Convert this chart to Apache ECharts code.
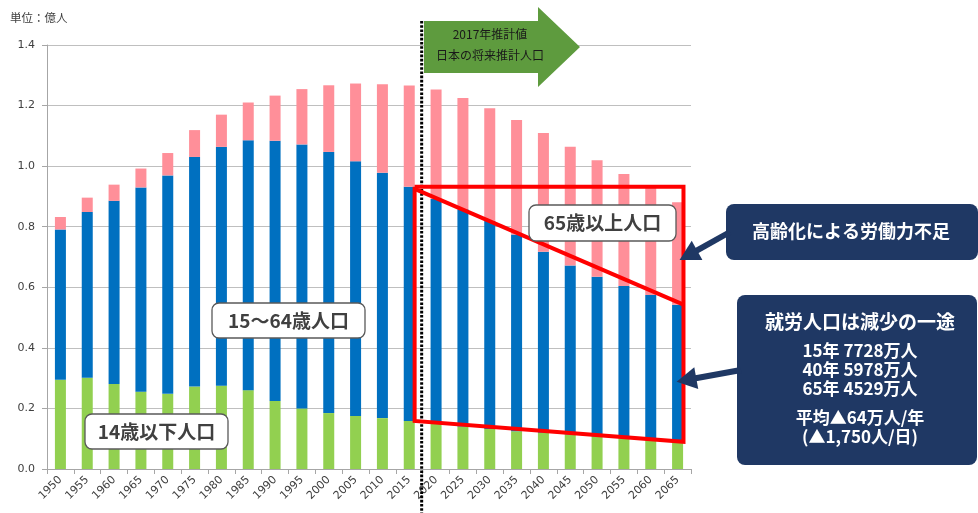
<!DOCTYPE html>
<html>
<head>
<meta charset="utf-8">
<script src="https://cdn.jsdelivr.net/npm/echarts@6/dist/echarts.min.js"></script>
<style>
  html, body { margin: 0; padding: 0; background: #ffffff; }
  #chart { width: 978px; height: 513px; }
</style>
</head>
<body>
<div id="chart"></div>
<script>
// 年次（5年毎）
const years = ['1950','1955','1960','1965','1970','1975','1980','1985','1990','1995',
  '2000','2005','2010','2015','2020','2025','2030','2035','2040','2045',
  '2050','2055','2060','2065'];
// 14歳以下人口（億人）
const young = [0.2943,0.3012,0.2807,0.2553,0.2482,0.2722,0.2751,0.2603,0.2249,0.2001,
  0.1847,0.1752,0.1680,0.1589,0.1507,0.1407,0.1321,0.1246,0.1194,0.1138,
  0.1077,0.1012,0.0951,0.0898];
// 15～64歳人口（億人）
const working = [0.4966,0.5473,0.6047,0.6744,0.7212,0.7581,0.7884,0.8251,0.8590,0.8717,
  0.8622,0.8409,0.8103,0.7728,0.7406,0.7170,0.6875,0.6494,0.5978,0.5584,
  0.5275,0.5028,0.4793,0.4529];
// 65歳以上人口（億人）
const elderly = [0.0411,0.0475,0.0535,0.0624,0.0739,0.0887,0.1065,0.1247,0.1490,0.1826,
  0.2201,0.2567,0.2925,0.3347,0.3619,0.3677,0.3716,0.3782,0.3921,0.3919,
  0.3841,0.3704,0.3540,0.3381];
// 縦軸目盛
const yTicks = [0, 0.2, 0.4, 0.6, 0.8, 1.0, 1.2, 1.4];

const chart = echarts.init(document.getElementById('chart'), null, { renderer: 'canvas' });

const axisGray = '#a6a6a6';
const textGray = '#404040';
const navy = '#1f3864';

chart.setOption({
  animation: false,
  backgroundColor: '#ffffff',
  grid: { left: 47, right: 287, top: 45, bottom: 44, containLabel: false },
  xAxis: {
    type: 'category',
    data: years,
    axisLine: { lineStyle: { color: axisGray, width: 1 } },
    axisTick: { show: true, length: 5, lineStyle: { color: axisGray } },
    axisLabel: {
      interval: 0, rotate: 45, margin: 9,
      fontFamily: 'DejaVu Sans', fontSize: 11, color: textGray
    },
    splitLine: { show: false }
  },
  yAxis: {
    type: 'value',
    min: yTicks[0],
    max: yTicks[yTicks.length - 1],
    interval: yTicks[1] - yTicks[0],
    axisLine: { show: true, lineStyle: { color: axisGray, width: 1 } },
    axisTick: { show: true, length: 5, lineStyle: { color: axisGray } },
    axisLabel: {
      margin: 12, fontFamily: 'DejaVu Sans', fontSize: 11, color: textGray,
      formatter: v => v.toFixed(1)
    },
    splitLine: { lineStyle: { color: '#bfbfbf', width: 1 } }
  },
  series: [
    { name: '14歳以下人口', type: 'bar', stack: 'pop', data: young,
      barWidth: '41%', itemStyle: { color: '#92d050' } },
    { name: '15～64歳人口', type: 'bar', stack: 'pop', data: working,
      barWidth: '41%', itemStyle: { color: '#0070c0' } },
    { name: '65歳以上人口', type: 'bar', stack: 'pop', data: elderly,
      barWidth: '41%', itemStyle: { color: '#ff8f99' } }
  ]
});

// データ座標 → ピクセル
function px(cat, val) {
  return chart.convertToPixel({ xAxisIndex: 0, yAxisIndex: 0 }, [cat, val]);
}

const i15 = years.indexOf('2015');
const iLast = years.length - 1;
const catW = px(years[1], 0)[0] - px(years[0], 0)[0];
const x2015 = px(years[i15], 0)[0];
const x2020 = px(years[i15 + 1], 0)[0];
const xLast = px(years[iLast], 0)[0];
const yOf = v => px(years[0], v)[1];

// 実績／推計の境界（点線）
const xSplit = (x2015 + x2020) / 2 - 1;

// 赤枠：生産年齢人口の減少
const xL = x2015 + catW * 0.2;
const xR = xLast + catW * 0.22;
const yTop = yOf(young[i15] + working[i15]);
const yBL = yOf(young[i15]);
const yBR = yOf(young[iLast]);
const yDiag = yOf(young[iLast] + working[iLast]);

// 矢印（軸・先端・太さ）
function arrow(tail, tip, color, width, headLen, headHalf) {
  const dx = tip[0] - tail[0], dy = tip[1] - tail[1];
  const len = Math.sqrt(dx * dx + dy * dy);
  const ux = dx / len, uy = dy / len;
  const bx = tip[0] - ux * headLen, by = tip[1] - uy * headLen;
  const nx = -uy, ny = ux;
  return [
    { type: 'line', z: 60,
      shape: { x1: tail[0], y1: tail[1], x2: bx + ux * 2, y2: by + uy * 2 },
      style: { stroke: color, lineWidth: width } },
    { type: 'polygon', z: 60,
      shape: { points: [tip, [bx + nx * headHalf, by + ny * headHalf], [bx - nx * headHalf, by - ny * headHalf]] },
      style: { fill: color } }
  ];
}

function labelBox(x, y, w, h, text) {
  return [
    { type: 'rect', z: 50, shape: { x: x, y: y, width: w, height: h, r: 7 },
      style: { fill: '#ffffff', stroke: '#595959', lineWidth: 1.3 } },
    { type: 'text', z: 51, x: x + w / 2, y: y + h / 2,
      style: { text: text, fill: '#404040', font: 'bold 19px "Noto Sans CJK JP"',
        align: 'center', verticalAlign: 'middle' } }
  ];
}

const cjk = '"Noto Sans CJK JP"';
const tip1 = [xLast + 2, yOf(0.69)];
const tip2 = [xLast - 1, yOf(0.288)];

const graphics = [
  // 単位
  { type: 'text', z: 40, x: 10, y: 18,
    style: { text: '単位：億人', fill: '#404040', font: '11.5px ' + cjk, verticalAlign: 'middle' } },

  // 推計値の矢印
  { type: 'polygon', z: 40,
    shape: { points: [[424, 21], [538, 21], [538, 7], [580, 47], [538, 87], [538, 73], [424, 73]] },
    style: { fill: '#5e9b3e' } },
  { type: 'text', z: 41, x: 490, y: 34,
    style: { text: '2017年推計値', fill: '#1a1a1a', font: '12px ' + cjk, align: 'center', verticalAlign: 'middle' } },
  { type: 'text', z: 41, x: 490, y: 55,
    style: { text: '日本の将来推計人口', fill: '#1a1a1a', font: '12px ' + cjk, align: 'center', verticalAlign: 'middle' } },

  // 境界の点線
  { type: 'line', z: 45,
    shape: { x1: xSplit, y1: 21, x2: xSplit, y2: 513 },
    style: { stroke: '#000000', lineWidth: 3, lineDash: [2.6, 1.6] } },

  // 赤枠
  { type: 'polyline', z: 46,
    shape: { points: [[xL, yTop], [xR, yTop], [xR, yBR], [xL, yBL], [xL, yTop]] },
    style: { stroke: '#ff0000', lineWidth: 4, fill: null, lineJoin: 'miter' } },
  { type: 'line', z: 46,
    shape: { x1: xL, y1: yTop + 2, x2: xR, y2: yDiag },
    style: { stroke: '#ff0000', lineWidth: 4 } },

  // 年齢区分ラベル
  ...labelBox(212, 303, 153, 35, '15～64歳人口'),
  ...labelBox(85, 414, 143, 35, '14歳以下人口'),
  ...labelBox(529, 205, 147, 36, '65歳以上人口'),

  // 吹き出し：高齢化
  { type: 'rect', z: 55, shape: { x: 726, y: 204, width: 252, height: 56, r: 8 },
    style: { fill: navy } },
  { type: 'text', z: 56, x: 851, y: 231,
    style: { text: '高齢化による労働力不足', fill: '#ffffff', font: 'bold 18px ' + cjk,
      align: 'center', verticalAlign: 'middle' } },

  // 吹き出し：就労人口
  { type: 'rect', z: 55, shape: { x: 737, y: 295, width: 240, height: 170, r: 8 },
    style: { fill: navy } },
  { type: 'text', z: 56, x: 860, y: 322,
    style: { text: '就労人口は減少の一途', fill: '#ffffff', font: 'bold 19px ' + cjk,
      align: 'center', verticalAlign: 'middle' } },
  { type: 'text', z: 56, x: 860, y: 351,
    style: { text: '15年 7728万人', fill: '#ffffff', font: 'bold 17px ' + cjk,
      align: 'center', verticalAlign: 'middle' } },
  { type: 'text', z: 56, x: 860, y: 370,
    style: { text: '40年 5978万人', fill: '#ffffff', font: 'bold 17px ' + cjk,
      align: 'center', verticalAlign: 'middle' } },
  { type: 'text', z: 56, x: 860, y: 389,
    style: { text: '65年 4529万人', fill: '#ffffff', font: 'bold 17px ' + cjk,
      align: 'center', verticalAlign: 'middle' } },
  { type: 'text', z: 56, x: 860, y: 418,
    style: { text: '平均▲64万人/年', fill: '#ffffff', font: 'bold 17px ' + cjk,
      align: 'center', verticalAlign: 'middle' } },
  { type: 'text', z: 56, x: 860, y: 437,
    style: { text: '(▲1,750人/日)', fill: '#ffffff', font: 'bold 17px ' + cjk,
      align: 'center', verticalAlign: 'middle' } },

  ...arrow([730, 232], tip1, navy, 6, 20, 11),
  ...arrow([741, 370], tip2, navy, 6, 20, 11)
];

chart.setOption({ graphic: graphics });
</script>
</body>
</html>
